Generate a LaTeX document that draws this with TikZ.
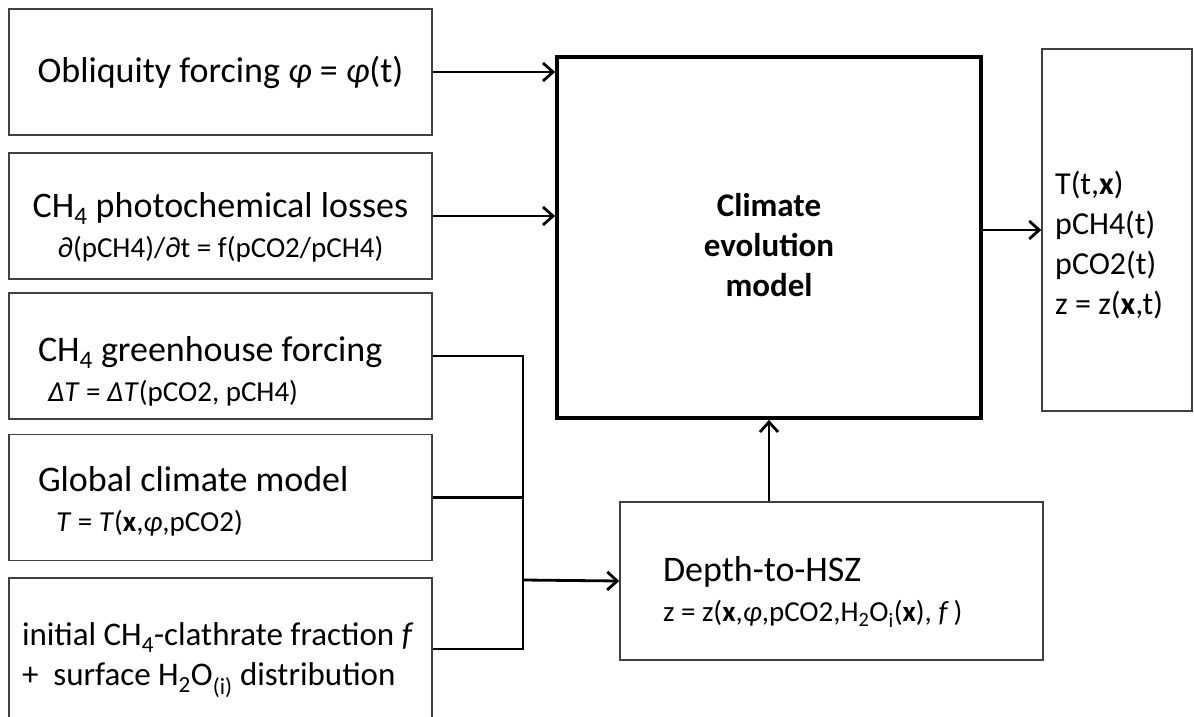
\documentclass[tikz,border=0pt]{standalone}
\usepackage{fontspec}
\setmainfont{Carlito}
\usepackage{tikz}
\usetikzlibrary{arrows.meta}

\newcommand{\bigtxt}{\fontsize{36}{40}\selectfont}
\newcommand{\smalltxt}{\fontsize{29}{40}\selectfont}

\begin{document}
\begin{tikzpicture}[x=1pt, y=-1pt,
    >={Straight Barb[length=10pt, width=18pt]},
    inbox/.style={draw=black!75, line width=1.4pt, minimum width=423pt, minimum height=126pt, inner ysep=0pt, font=\bigtxt},
    leftbox/.style={inbox, text width=365pt, inner xsep=29pt, align=flush left},
    conn/.style={line width=2.8pt}]
    \useasboundingbox (0,0) rectangle (1194,717);
    \clip (0,0) rectangle (1194,717);

    % inputs on the left
    \node[inbox, align=center] at (220.5, 72) (obl) {Obliquity forcing \textit{φ} = \textit{φ}(t)};
    \node[inbox, align=center] at (220.5, 216) (loss) {\rule{0pt}{47pt}CH\textsubscript{4} photochemical losses\\ {\smalltxt ∂(pCH4)/∂t = f(pCO2/pCH4)}};
    \node[leftbox] at (220.5, 356) (gh) {\rule{0pt}{55pt}CH\textsubscript{4} greenhouse forcing\\ {\smalltxt\hspace*{10pt}\textit{ΔT} = \textit{ΔT}(pCO2, pCH4)}};
    \node[leftbox] at (220.5, 497.5) (gcm) {\rule{0pt}{33pt}Global climate model\\ {\smalltxt\hspace*{18pt}\textit{T} = \textit{T}(\textbf{x},\textit{φ},pCO2)}};
    \node[leftbox, text width=397pt, inner xsep=13pt, minimum height=142pt, font=\fontsize{33}{40}\selectfont] at (220.5, 649) (init) {\rule{0pt}{45pt}initial CH\textsubscript{4}-clathrate fraction \textit{f}\\ +\ \ surface H\textsubscript{2}O\textsubscript{(i)} distribution};

    % model and outputs
    \node[draw, line width=3.8pt, minimum width=424pt, minimum height=361pt, align=center, font=\bfseries\fontsize{33}{40}\selectfont] at (769, 237.5) (cem) {\rule{0pt}{39pt}Climate\\evolution\\model};
    \node[draw=black!75, line width=1.4pt, minimum width=150pt, minimum height=362pt] at (1117, 230) (out) {};
    \node[anchor=west, align=left, inner sep=0pt, font=\fontsize{32}{40}\selectfont] at (1055, 245) (outtext) {T(t,\textbf{x})\\pCH4(t)\\pCO2(t)\\z = z(\textbf{x},t)};
    \node[draw=black!75, line width=1.4pt, text width=337pt, inner xsep=43pt, minimum height=158pt, align=flush left, font=\bigtxt] at (831.5, 581) (depth) {\rule{0pt}{47pt}Depth-to-HSZ\\ {\smalltxt z = z(\textbf{x},\textit{φ},pCO2,H\textsubscript{2}O\textsubscript{i}(\textbf{x}), \textit{f}\,)}};

    \coordinate (bus) at (523, 580);

    \draw[conn, ->] (obl.east) -- (obl.east -| cem.west);
    \draw[conn, ->] (loss.east) -- (loss.east -| cem.west);
    \draw[conn] (gh.east) -| (bus);
    \draw[conn] (gcm.east) -| (bus);
    \draw[conn] (init.east) -| (bus);
    \draw[conn, ->] (bus) -- (depth.west);
    \draw[conn, ->] (depth.north -| cem.south) -- (cem.south);
    \draw[conn, ->] (cem.east |- out.west) -- (out.west);
\end{tikzpicture}
\end{document}
